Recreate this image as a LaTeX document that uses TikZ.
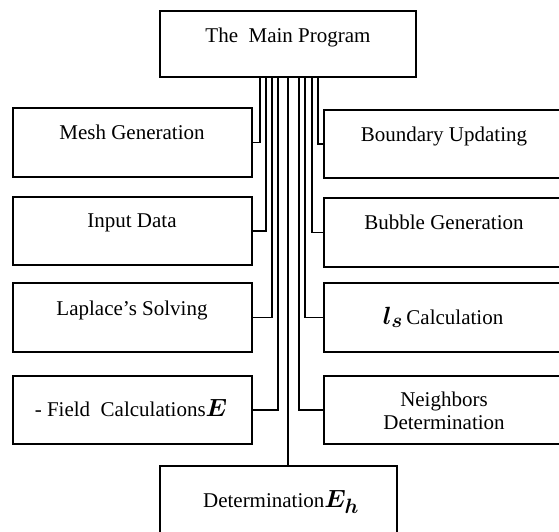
\documentclass[tikz,border=0pt]{standalone}
\usepackage{amsmath}
\usepackage{fontspec}
\setmainfont{Liberation Serif}
\newcommand{\mybigmath}[1]{{\fontsize{29}{30}\selectfont$\boldsymbol{#1}$}}
\begin{document}
\begin{tikzpicture}[x=1pt,y=-1pt,
  box/.style={draw,line width=1.5pt,inner sep=0pt,outer sep=0pt},
  lbox/.style={box,minimum width=239pt},
  rbox/.style={box,minimum width=241pt},
  lbl/.style={anchor=base,inner sep=0pt,font=\fontsize{21}{23}\selectfont,align=center},
  conn/.style={line width=1.2pt}]
\useasboundingbox (0,0) rectangle (559,531);
% boxes
\node[box,minimum width=256pt,minimum height=66pt] (main) at (288,44) {};
\node[lbox,minimum height=69pt] (mesh) at (132.5,142.5) {};
\node[lbox,minimum height=68pt] (input) at (132.5,231) {};
\node[lbox,minimum height=69pt] (laplace) at (132.5,317.5) {};
\node[lbox,minimum height=68pt] (field) at (132.5,410) {};
\node[rbox,minimum height=68pt] (boundary) at (444.5,144) {};
\node[rbox,minimum height=69pt] (bubble) at (444.5,232.5) {};
\node[rbox,minimum height=69pt] (ls) at (444.5,317.5) {};
\node[rbox,minimum height=68pt] (neigh) at (444.5,410) {};
\node[box,minimum width=237pt,minimum height=80pt] (det) at (278.5,506) {};
% texts
\node[lbl] (tmain) at (288,42) {The\ \ Main Program};
\node[lbl] (tmesh) at (132,139) {Mesh Generation};
\node[lbl] (tinput) at (132,227) {Input Data};
\node[lbl] (tlaplace) at (132,315) {Laplace’s Solving};
\node[lbl] (tfield) at (131,416) {- Field\ \ Calculations\mybigmath{E}};
\node[lbl] (tboundary) at (444,141.5) {Boundary Updating};
\node[lbl] (tbubble) at (444,229) {Bubble Generation};
\node[lbl] (tls) at (443,324) {\mybigmath{l_{s}}\,Calculation};
\node[lbl] (tneigh) at (444,429) {Neighbors\\[0pt]Determination};
\node[lbl] (tdet) at (281,507.5) {Determination\mybigmath{E_{h}}};
% connectors
\draw[conn] ([xshift=-28pt]main.south) |- (mesh.east);
\draw[conn] ([xshift=-22pt]main.south) |- (input.east);
\draw[conn] ([xshift=-16pt]main.south) |- (laplace.east);
\draw[conn] ([xshift=-10pt]main.south) |- (field.east);
\draw[conn] (main.south) -- (main.south |- det.north);
\draw[conn] ([xshift=11pt]main.south) |- (neigh.west);
\draw[conn] ([xshift=17pt]main.south) |- (ls.west);
\draw[conn] ([xshift=24pt]main.south) |- (bubble.west);
\draw[conn] ([xshift=30pt]main.south) |- (boundary.west);
\end{tikzpicture}
\end{document}
